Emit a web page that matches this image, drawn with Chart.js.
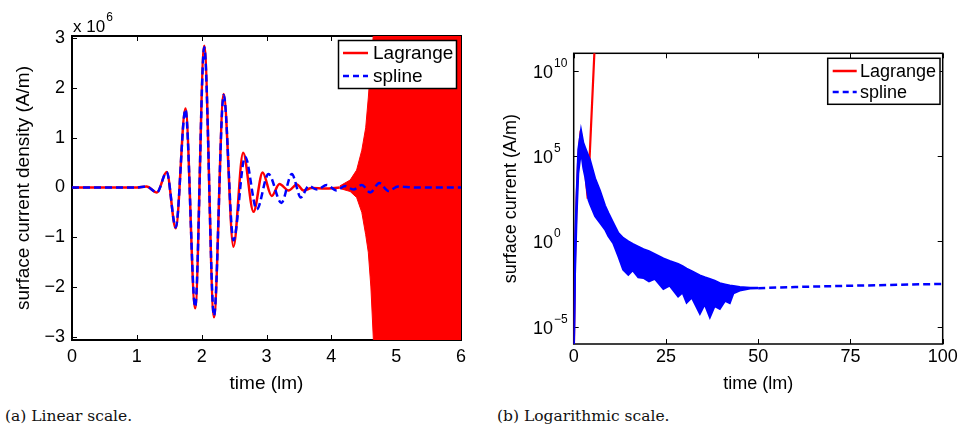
<!DOCTYPE html>
<html><head><meta charset="utf-8">
<script src="https://cdn.jsdelivr.net/npm/chart.js@4"></script>
<style>
html,body{margin:0;padding:0;background:#fff}
body{width:960px;height:428px;overflow:hidden;position:relative}
canvas{position:absolute;top:0}
#cl{left:0}
#cr{left:480px}
.cap{position:absolute;top:407px;font-family:'DejaVu Serif',serif;font-size:15.5px;color:#111;white-space:nowrap}
</style></head>
<body>
<canvas id="cl" width="480" height="395"></canvas>
<canvas id="cr" width="480" height="395"></canvas>
<div class="cap" style="left:5px">(a) Linear scale.</div>
<div class="cap" style="left:497px">(b) Logarithmic scale.</div>
<script>
// ---------- (a) linear scale, values in units of 10^6 A/m ----------
const linTicksX = [0, 1, 2, 3, 4, 5, 6];
const linTicksY = [-3, -2, -1, 0, 1, 2, 3];
const lagT = [0, 1.00, 1.15, 1.31, 1.46, 1.60, 1.75, 1.90, 2.04, 2.19, 2.34, 2.49, 2.64, 2.80, 2.94, 3.08, 3.20, 3.34, 3.47, 3.57, 3.70, 3.90, 4.13];
const lagV = [0, 0, 0.02, -0.10, 0.31, -0.82, 1.59, -2.43, 2.85, -2.61, 1.88, -1.19, 0.70, -0.49, 0.30, -0.17, 0.07, -0.06, 0.06, -0.06, -0.01, -0.02, 0.0];
const splT = [0, 1.00, 1.15, 1.31, 1.46, 1.60, 1.75, 1.90, 2.04, 2.19, 2.34, 2.49, 2.67, 2.85, 3.03, 3.23, 3.39, 3.53, 3.65, 3.78, 3.93, 4.08, 4.21, 4.34, 4.47, 4.60, 4.74, 4.88, 5.03, 5.30, 6.00];
const splV = [0, 0, 0.02, -0.10, 0.31, -0.80, 1.57, -2.40, 2.82, -2.58, 1.86, -1.06, 0.62, -0.44, 0.27, -0.31, 0.27, -0.20, 0.03, -0.04, 0.05, -0.06, 0.03, -0.04, 0.05, -0.10, 0.09, -0.07, 0.02, 0, 0];
// envelope of the blown-up Lagrange oscillation
const envT  = [4.13, 4.29, 4.39, 4.47, 4.53, 4.57, 4.61, 4.65, 4.75, 6.00];
const envHi = [0.03, 0.15, 0.35, 0.75, 1.20, 1.80, 2.50, 3.10, 8, 50];
const envLo = [-0.02, -0.08, -0.20, -0.50, -0.95, -1.30, -2.00, -3.10, -8, -50];

// ---------- (b) logarithmic scale, |J| in A/m ----------
const logTicksX = [0, 25, 50, 75, 100];
const logTickExp = [-5, 0, 5, 10];
const bandT  = [0.05, 0.35, 0.8, 1.25, 1.98, 2.6, 3.1, 4.0, 4.4, 5.8, 7.1, 8.5, 9.4, 10.7, 12.1, 13.4, 14.8, 16, 17.5, 18.9, 20.4, 22, 24.3, 26, 28.3, 29.5, 30.6, 32, 34.2, 35.5, 36.9, 38.2, 39.6, 41, 42.3, 43.3, 45, 47.8, 50];
const bandHi = [3.2e-7, 0.79, 710, 2.5e5, 3.4e6, 6.3e5, 3.2e5, 1.0e5, 6.3e4, 5.0e3, 1.0e3, 126, 47, 12.6, 3.1, 1.6, 1.0, 0.71, 0.5, 0.35, 0.27, 0.18, 0.1, 0.071, 0.047, 0.035, 0.025, 0.018, 0.01, 0.0079, 0.0063, 0.005, 0.0035, 0.003, 0.0026, 0.0024, 0.0021, 0.0019, 0.0019];
const bandLo = [3.2e-7, 0.01, 32, 1.0e4, 2.0e5, 2.0e4, 6.3e3, 280, 160, 30, 12.6, 4.9, 2.0, 0.79, 0.13, 0.022, 0.011, 0.02, 0.0079, 0.0071, 0.0045, 0.0063, 0.0016, 0.0025, 5.8e-4, 1.0e-3, 2.5e-4, 5.0e-4, 5.6e-5, 2.0e-4, 3.5e-5, 1.6e-4, 1.1e-4, 3.2e-4, 2.4e-4, 9.1e-4, 1.3e-3, 1.7e-3, 1.8e-3];
const tailT = [50, 60, 75, 100];
const tailV = [0.0018, 0.0021, 0.0025, 0.0032];
const lagLogT = [0.02, 0.35, 0.8, 1.25, 1.9, 2.6, 3.2, 3.8, 5.6, 6.5];
const lagLogV = [1e-7, 0.1, 320, 1e5, 3.2e6, 1e5, 7.9e3, 320, 1.1e11, 2.5e14];

const legendLabels = ['Lagrange', 'spline'];
const RED = '#ff0000', BLUE = '#0000ff';
const FONT = "'Liberation Sans', Arial, sans-serif";

Chart.defaults.font.family = FONT;
Chart.defaults.color = '#000';
Chart.defaults.animation = false;

const pts = (xs, ys) => xs.map((x, i) => ({x, y: ys[i]}));

// frame, inward ticks, legend, extra texts
const framePlugin = {
  id: 'frame',
  beforeDatasetsDraw(chart, args, o) {
    const {ctx, chartArea: a, scales: {x, y}} = chart;
    ctx.save();
    ctx.strokeStyle = '#000';
    ctx.lineWidth = o.lw;
    ctx.strokeRect(a.left, a.top, a.right - a.left, a.bottom - a.top);
    ctx.lineWidth = 1;
    ctx.beginPath();
    x.ticks.forEach(t => {
      const p = Math.round(x.getPixelForValue(t.value)) + 0.5;
      ctx.moveTo(p, a.bottom); ctx.lineTo(p, a.bottom - 5);
      ctx.moveTo(p, a.top); ctx.lineTo(p, a.top + 5);
    });
    y.ticks.forEach(t => {
      const p = Math.round(y.getPixelForValue(t.value)) + 0.5;
      ctx.moveTo(a.left, p); ctx.lineTo(a.left + 5, p);
      ctx.moveTo(a.right, p); ctx.lineTo(a.right - 5, p);
    });
    ctx.stroke();
    ctx.restore();
  },
  afterDraw(chart, args, o) {
    const {ctx} = chart;
    ctx.save();
    // legend
    const L = o.legend;
    ctx.fillStyle = '#fff';
    ctx.fillRect(L.x, L.y, L.w, L.h);
    ctx.strokeStyle = '#000';
    ctx.lineWidth = 1.5;
    ctx.strokeRect(L.x, L.y, L.w, L.h);
    ctx.font = L.font + 'px ' + FONT;
    ctx.textBaseline = 'middle';
    ctx.textAlign = 'left';
    L.rows.forEach((r, i) => {
      ctx.beginPath();
      ctx.strokeStyle = r.color;
      ctx.lineWidth = 2.5;
      ctx.setLineDash(r.dash || []);
      ctx.moveTo(L.x1, r.y); ctx.lineTo(L.x2, r.y);
      ctx.stroke();
      ctx.setLineDash([]);
      ctx.fillStyle = '#000';
      ctx.fillText(legendLabels[i], L.tx, r.y + 1);
    });
    // multiplier text
    if (o.mult) {
      ctx.textBaseline = 'alphabetic';
      ctx.font = '17px ' + FONT;
      ctx.fillText('x 10', o.mult.x, o.mult.y);
      const w = ctx.measureText('x 10').width;
      ctx.font = '12px ' + FONT;
      ctx.fillText('6', o.mult.x + w + 1, o.mult.y - 11);
    }
    // log tick labels with superscripts
    if (o.logLabels) {
      const y = chart.scales.y;
      ctx.textBaseline = 'alphabetic';
      logTickExp.forEach(e => {
        const p = y.getPixelForValue(Math.pow(10, e));
        ctx.font = '18px ' + FONT;
        ctx.fillText('10', o.logLabels.x, p + 7);
        const w = ctx.measureText('10').width;
        ctx.font = '12px ' + FONT;
        ctx.fillText(e < 0 ? '\u2212' + Math.abs(e) : String(e), o.logLabels.x + w + 1, p - 4);
      });
    }
    ctx.restore();
  }
};

const fixX = h => s => { s.height = h; s.paddingLeft = 0; s.paddingRight = 0; };
const fixY = w => s => { s.width = w; s.paddingTop = 0; s.paddingBottom = 0; };

// ---------- left chart ----------
new Chart(document.getElementById('cl'), {
  type: 'line',
  data: {
    datasets: [
      {label: 'spline', data: pts(splT, splV), borderColor: BLUE, borderWidth: 2.5, borderDash: [7, 4],
       pointRadius: 0, cubicInterpolationMode: 'monotone', fill: false},
      {label: 'Lagrange', data: pts(lagT, lagV), borderColor: RED, borderWidth: 2.5,
       pointRadius: 0, cubicInterpolationMode: 'monotone', fill: false},
      {label: 'envHi', data: pts(envT, envHi), borderColor: RED, borderWidth: 1, pointRadius: 0, fill: false},
      {label: 'envLo', data: pts(envT, envLo), borderColor: RED, borderWidth: 1, pointRadius: 0,
       fill: '-1', backgroundColor: RED}
    ]
  },
  options: {
    responsive: false, maintainAspectRatio: false, devicePixelRatio: 1,
    layout: {padding: {left: 0, right: 19, top: 36, bottom: 0}},
    plugins: {
      legend: {display: false}, tooltip: {enabled: false},
      frame: {
        lw: 2,
        legend: {x: 338.5, y: 40.5, w: 118, h: 48, x1: 343, x2: 368, tx: 373, font: 19,
                 rows: [{color: RED, y: 53}, {color: BLUE, y: 76, dash: [6, 4]}]},
        mult: {x: 73, y: 32}
      }
    },
    scales: {
      x: {type: 'linear', min: 0, max: 6,
          afterBuildTicks: s => { s.ticks = linTicksX.map(v => ({value: v})); },
          ticks: {font: {size: 18}, color: '#000', padding: 6, maxRotation: 0, autoSkip: false},
          grid: {display: false, drawTicks: false}, border: {display: false},
          title: {display: true, text: 'time (lm)', font: {size: 19, lineHeight: 1.2}, color: '#000', padding: {top: 0, bottom: 0}},
          afterFit: fixX(55)},
      y: {type: 'linear', min: -3.066, max: 3.046,
          afterBuildTicks: s => { s.ticks = linTicksY.map(v => ({value: v})); },
          ticks: {font: {size: 18}, color: '#000', padding: 7,
                  callback: v => v < 0 ? '\u2212' + Math.abs(v) : String(v)},
          grid: {display: false, drawTicks: false}, border: {display: false},
          title: {display: true, text: 'surface current density (A/m)', font: {size: 19, lineHeight: 1.2}, color: '#000', padding: {top: 12, bottom: 0}},
          afterFit: fixY(72)}
    }
  },
  plugins: [framePlugin]
});

// ---------- right chart ----------
new Chart(document.getElementById('cr'), {
  type: 'line',
  data: {
    datasets: [
      {label: 'tail', data: pts(tailT, tailV), borderColor: BLUE, borderWidth: 2.5, borderDash: [7, 4],
       pointRadius: 0, fill: false},
      {label: 'bandHi', data: pts(bandT, bandHi), borderColor: BLUE, borderWidth: 2, pointRadius: 0, fill: false},
      {label: 'bandLo', data: pts(bandT, bandLo), borderColor: BLUE, borderWidth: 2, pointRadius: 0,
       fill: '-1', backgroundColor: BLUE},
      {label: 'Lagrange', data: pts(lagLogT, lagLogV), borderColor: RED, borderWidth: 2.2, pointRadius: 0, fill: false}
    ]
  },
  options: {
    responsive: false, maintainAspectRatio: false, devicePixelRatio: 1,
    layout: {padding: {left: 0, right: 17.3, top: 53.3, bottom: 0}},
    plugins: {
      legend: {display: false}, tooltip: {enabled: false},
      frame: {
        lw: 1.5,
        legend: {x: 347.7, y: 58.3, w: 112.3, h: 46, x1: 352.7, x2: 376.7, tx: 380, font: 18,
                 rows: [{color: RED, y: 71}, {color: BLUE, y: 92, dash: [6, 4]}]},
        logLabels: {x: 53}
      }
    },
    scales: {
      x: {type: 'linear', min: 0, max: 100,
          afterBuildTicks: s => { s.ticks = logTicksX.map(v => ({value: v})); },
          ticks: {font: {size: 18}, color: '#000', padding: 2, maxRotation: 0, autoSkip: false},
          grid: {display: false, drawTicks: false}, border: {display: false},
          title: {display: true, text: 'time (lm)', font: {size: 18, lineHeight: 1.2}, color: '#000', padding: {top: 0, bottom: 0}},
          afterFit: fixX(51)},
      y: {type: 'logarithmic', min: 9.5e-7, max: 1.1e11,
          afterBuildTicks: s => { s.ticks = logTickExp.map(e => ({value: Math.pow(10, e)})); },
          ticks: {display: false},
          grid: {display: false, drawTicks: false}, border: {display: false},
          title: {display: true, text: 'surface current (A/m)', font: {size: 18, lineHeight: 1.2}, color: '#000', padding: {top: 20, bottom: 0}},
          afterFit: fixY(93.7)}
    }
  },
  plugins: [framePlugin]
});
</script>
</body></html>
